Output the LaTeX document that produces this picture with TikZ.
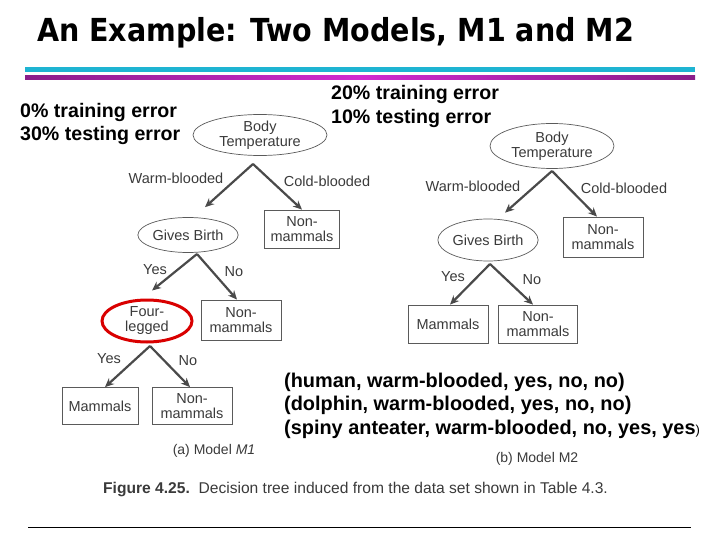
\documentclass[tikz,border=0pt]{standalone}
\usepackage{fontspec}
\setmainfont{Liberation Sans}
\newfontfamily\titlefont{DejaVu Sans Condensed}[BoldFont={DejaVu Sans Condensed Bold}]
\usetikzlibrary{arrows.meta,shapes.geometric}
\definecolor{scan}{HTML}{3A3A3A}
\definecolor{arrowgray}{HTML}{4A4A4A}
\definecolor{boxgray}{HTML}{5A5A5A}
\definecolor{cyanline}{HTML}{1EB4D2}
\definecolor{magline}{HTML}{D02AD0}
\definecolor{purpline}{HTML}{8A1E8A}
\tikzset{
  ell/.style={ellipse, draw=boxgray, line width=0.7pt, text=scan, font=\fontsize{14.5}{15}\selectfont, align=center, inner sep=0pt},
  leaf/.style={rectangle, draw=boxgray, line width=0.8pt, text=scan, font=\fontsize{14.5}{15}\selectfont, align=center, inner sep=0pt},
  arr/.style={draw=arrowgray, line width=2.2pt, -{Stealth[length=9pt,width=8pt]}},
  elab/.style={text=scan, font=\fontsize{14.5}{15}\selectfont, inner sep=0pt},
  big/.style={font=\fontsize{19.6}{24.5}\selectfont\bfseries, inner sep=0pt, align=left, text=black},
  data/.style={font=\fontsize{19.9}{24.5}\selectfont\bfseries, inner sep=0pt, text=black},
}
\begin{document}
\begin{tikzpicture}[x=1pt,y=-1pt]
\useasboundingbox (0,0) rectangle (720,540);
% title
\node[anchor=west, inner sep=0pt, font=\titlefont\fontsize{31.7}{34}\selectfont\bfseries] (title) at (37,33) {An Example: Two Models, M1 and M2};
% rules
\fill[cyanline] (25,67) rectangle (695,72);
\shade[left color=purpline, right color=purpline, middle color=magline] (25,75.5) rectangle (695,80);
% error texts
\node[big, anchor=west] (err1) at (20,112) {0\% training error};
\node[big, anchor=west] (err1b) at (20,135) {30\% testing error};
\node[big, anchor=west] (err2) at (331,94) {20\% training error};
\node[big, anchor=west] (err2b) at (331,118) {10\% testing error};

% ---------- Model M1 ----------
\node[ell, minimum width=134pt, minimum height=41pt] (bt1) at (260,135) {Body\\Temperature};
\node[ell, minimum width=92pt, minimum height=35pt] (gb1) at (188,235) {Gives Birth};
\node[leaf, minimum width=75pt, minimum height=38pt] (nm1a) at (302,229) {Non-\\mammals};
\node[ell, draw=red!85!black, line width=3pt, minimum width=90pt, minimum height=42pt] (fl1) at (147,321) {Four-\\legged};
\node[leaf, minimum width=80pt, minimum height=40pt] (nm1b) at (241,320) {Non-\\mammals};
\node[leaf, minimum width=76pt, minimum height=37pt] (mm1) at (100,406) {Mammals};
\node[leaf, minimum width=80pt, minimum height=37pt] (nm1c) at (192,406) {Non-\\mammals};

\coordinate (v1) at (253,164);
\coordinate (v2) at (197,254);
\coordinate (v3) at (150,346);
\draw[arr] (v1) -- ([xshift=17pt,yshift=10pt]gb1.north);
\draw[arr] (v1) -- (nm1a.north);
\draw[arr] (v2) -- ([xshift=5pt,yshift=8pt]fl1.north);
\draw[arr] (v2) -- ([xshift=-4pt]nm1b.north);
\draw[arr] (v3) -- ([xshift=5pt]mm1.north);
\draw[arr] (v3) -- ([xshift=-2pt]nm1c.north);

\node[elab] (wb1) at (176,178) {Warm-blooded};
\node[elab] (cb1) at (327,181) {Cold-blooded};
\node[elab] (y1) at (155,270) {Yes};
\node[elab] (n1) at (234,272) {No};
\node[elab] (y2) at (109,359) {Yes};
\node[elab] (n2) at (188,361) {No};
\node[elab, font=\fontsize{14}{15}\selectfont] (cap1) at (214,451) {(a) Model \textit{M1}};

% ---------- Model M2 ----------
\node[ell, minimum width=124pt, minimum height=45pt] (bt2) at (552,146) {Body\\Temperature};
\node[ell, minimum width=95pt, minimum height=42pt] (gb2) at (488,240) {Gives Birth};
\node[leaf, minimum width=80pt, minimum height=40pt] (nm2a) at (603,237) {Non-\\mammals};
\node[leaf, minimum width=80pt, minimum height=38pt] (mm2) at (448,324) {Mammals};
\node[leaf, minimum width=79pt, minimum height=38pt] (nm2b) at (538,324) {Non-\\mammals};

\coordinate (w1) at (552,171);
\coordinate (w2) at (490,264);
\draw[arr] (w1) -- ([xshift=17pt,yshift=6pt]gb2.north);
\draw[arr] (w1) -- ([xshift=-6pt]nm2a.north);
\draw[arr] (w2) -- ([xshift=2pt]mm2.north);
\draw[arr] (w2) -- ([xshift=-5pt]nm2b.north);

\node[elab] (wb2) at (473,186) {Warm-blooded};
\node[elab] (cb2) at (624,188) {Cold-blooded};
\node[elab] (y3) at (453,277) {Yes};
\node[elab] (n3) at (532,280) {No};
\node[elab, font=\fontsize{14}{15}\selectfont] (cap2) at (537,459) {(b) Model M2};

% data
\node[data, anchor=west] (d1) at (284,382) {(human, warm-blooded, yes, no, no)};
\node[data, anchor=west] (d2) at (284,405) {(dolphin, warm-blooded, yes, no, no)};
\node[data, anchor=west] (d3) at (284,429) {(spiny anteater, warm-blooded, no, yes, yes{\mdseries\fontsize{13}{14}\selectfont)}};

% figure caption
\node[anchor=west, inner sep=0pt, text=scan, font=\fontsize{15.6}{17}\selectfont] (figcap) at (103,489) {\textbf{Figure 4.25.}\ \ Decision tree induced from the data set shown in Table 4.3.};

% bottom rule
\draw[line width=0.8pt] (28,527) -- (691,527);
\end{tikzpicture}
\end{document}
